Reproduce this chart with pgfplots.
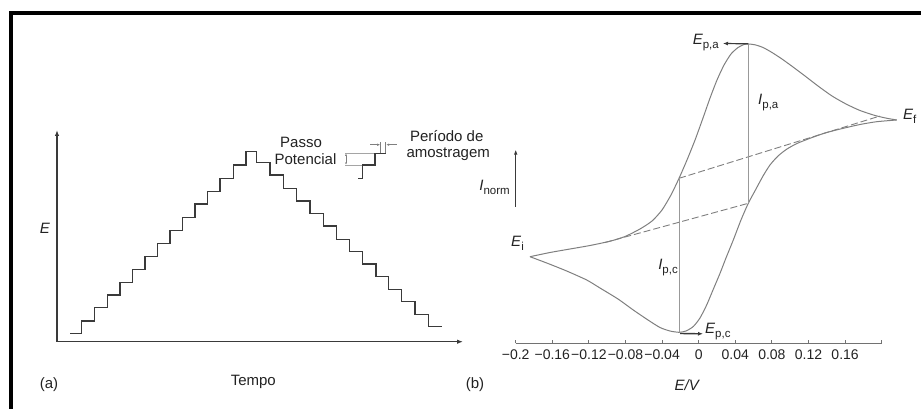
\documentclass[border=0pt]{standalone}
\usepackage{pgfplots}
\pgfplotsset{compat=1.18}
\usepackage{fontspec}
\setmainfont{Liberation Sans}
\usetikzlibrary{arrows.meta}
\definecolor{curve}{HTML}{7F7F7F}
\definecolor{txt}{HTML}{222222}
\definecolor{axdark}{HTML}{3A3A3A}
\newcommand\sub[1]{\raisebox{-0.27em}{\upshape\fontsize{11.5}{12}\selectfont #1}}
\begin{document}
\begin{tikzpicture}[x=1pt,y=1pt,font=\fontsize{15}{18}\selectfont,text=txt]
\path[use as bounding box] (0,0) rectangle (921,408);
% frame
\draw[line width=4pt,black] (11,-5) -- (11,395) -- (930,395);

% ---------------- panel (a) ----------------
\begin{axis}[
  at={(57pt,66.3pt)}, anchor=south west,
  x=1pt, y=1pt,
  xmin=57, xmax=463, ymin=66.3, ymax=278,
  axis lines=left,
  axis line style={draw=axdark, line width=1.3pt, -{Latex[length=6pt,width=4.5pt]}},
  xtick=\empty, ytick=\empty,
  clip=false,
]
\addplot[const plot, draw=axdark, line width=1.2pt] coordinates {
(70,74.7) (81.7,87) (94.3,100.3) (107.3,113) (120,125.3) (132.7,138.7)
(145,151.3) (157.7,164.7) (170,177.3) (182.3,190.7) (195,204) (207.3,216.3)
(220,229.7) (233.3,243) (246,256.3)
(256.7,245.7) (270,233) (283.3,219.7) (296.7,207) (310,194.7) (323.3,182)
(336.7,168.7) (349.3,156.3) (362.7,144) (376,131.3) (388.3,118.7) (401.7,106.3)
(415,93.7) (428.3,81.3) (441.7,81.3)
};
\end{axis}

% inset schematic (step height / sampling period)
\draw[curve!70, line width=0.6pt] (345,254.7) -- (375,254.7);
\draw[curve!70, line width=0.6pt] (345,243) -- (362.3,243);
\draw[axdark, line width=1.1pt] (358,229.7) -- (362.3,229.7) -- (362.3,243) -- (375,243) -- (375,254.7) -- (386,254.7);
\draw[curve, line width=0.5pt, {Latex[length=2pt,width=2pt]}-{Latex[length=2pt,width=2pt]}] (346,243.5) -- (346,254.2);
\draw[curve, line width=0.7pt] (380.7,254.7) -- (380.7,266.3);
\draw[curve, line width=0.7pt] (385.7,254.7) -- (385.7,266.3);
\draw[curve, line width=0.6pt, -{Latex[length=3pt,width=2.5pt]}] (370,263.3) -- (380.2,263.3);
\draw[curve, line width=0.6pt, -{Latex[length=3pt,width=2.5pt]}] (396.7,263.3) -- (386.2,263.3);

\node at (301,266) {Passo};
\node at (305.5,249) {Potencial};
\node[anchor=west] at (406.5,272) {Período de};
\node[anchor=west] at (403,254) {amostragem};
\node at (45,180) {\itshape E};
\node at (253.3,26) {Tempo};
\node at (49,23) {(a)};

% ---------------- panel (b) ----------------  (x data in mV)
\begin{axis}[
  at={(515.7pt,64.7pt)}, anchor=south west,
  x=0.915pt, y=1pt,
  xmin=-200, xmax=200, ymin=64.7, ymax=370,
  axis x line*=bottom, axis y line*=left,
  x axis line style={draw=curve!90!black, line width=1.1pt, -},
  y axis line style={draw=none},
  xtick={-200,-160,-120,-80,-40,0,40,80,120,160,200},
  xticklabels={−0.2,−0.16,−0.12,−0.08,−0.04,0,0.04,0.08,0.12,0.16,{}},
  tick align=inside, major tick length=3.5pt,
  tick style={draw=curve!90!black, line width=0.9pt},
  xticklabel style={font=\fontsize{14}{16}\selectfont, text=txt, yshift=-2.5pt},
  ytick=\empty,
  clip=false,
]
% forward scan (E_i -> E_f)
\addplot[draw=curve, line width=1.0pt, smooth, tension=0.4] coordinates {
(-184.4,151.3) (-162.5,155.5) (-140.7,159) (-118.8,162.5) (-96.9,166.8)
(-80.5,171.5) (-64.2,179) (-51.0,187) (-40.1,198) (-30.3,213)
(-21.5,229.7) (-12.8,248) (-4.0,268) (4.7,290) (12.4,310)
(20.0,328) (27.7,343) (35.3,354) (43.0,360.5) (49.5,363.5)
(54.2,364) (61.5,363.2) (70.3,360.5) (80.1,355.5) (91.0,349)
(103.1,341) (116.2,332) (130.4,322) (145.7,312) (161.0,304)
(176.3,297.5) (192.7,292.5) (205.8,289.7) (216.4,288)
};
% reverse scan (E_f -> E_i)
\addplot[draw=curve, line width=1.0pt, smooth, tension=0.4] coordinates {
(216.4,288) (194.5,286.3) (176.3,283.5) (158.0,279.7) (138.0,275)
(121.6,269.7) (107.4,264.5) (96.5,259) (86.7,252) (77.9,243)
(70.3,232) (62.6,219) (54.2,204.7) (46.2,188) (37.8,168)
(29.8,150) (23.3,134.7) (15.6,118) (8.7,103) (1.4,90)
(-5.9,81.5) (-13.9,77) (-21.5,75.7) (-31.4,77) (-42.3,80.5)
(-55.4,88) (-71.5,98) (-88.2,109) (-107.9,120) (-122.4,128)
(-144.3,137) (-164.7,144.5) (-184.4,151.3)
};
% baselines (dashed)
\addplot[draw=curve, line width=0.9pt, dash pattern=on 7pt off 3pt] coordinates {(-102.4,165.5) (54.2,204.7)};
\addplot[draw=curve, line width=0.9pt, dash pattern=on 7pt off 3pt] coordinates {(-21.5,229.7) (198.1,292)};
% peak current lines
\addplot[draw=curve!80, line width=1.0pt] coordinates {(54.2,364) (54.2,204.7)};
\addplot[draw=curve!80, line width=1.0pt] coordinates {(-21.5,229.7) (-21.5,75.7)};
\end{axis}

% annotations panel (b)
\draw[axdark, line width=1.2pt, -{Latex[length=5pt,width=4pt]}] (748.3,364.2) -- (723,364.5);
\draw[axdark, line width=1.4pt, -{Latex[length=5pt,width=4pt]}] (680,74.5) -- (703,74.2);
\draw[axdark, line width=1.1pt, -{Latex[length=5pt,width=3.5pt]}] (515.7,201.3) -- (515.7,258.5);

\node[anchor=east, inner sep=1pt] at (720,365) {\itshape E\sub{p,a}};
\node[anchor=west, inner sep=1pt] at (704,76) {\itshape E\sub{p,c}};
\node[anchor=west, inner sep=1pt] at (757,305) {\itshape I\sub{p,a}};
\node[anchor=east, inner sep=1pt] at (679,140) {\itshape I\sub{p,c}};
\node[anchor=east, inner sep=1pt] at (511,220.5) {\itshape I\sub{norm}};
\node[anchor=east, inner sep=1pt] at (525,165) {\itshape E\sub{i}};
\node[anchor=west, inner sep=1pt] at (902,292) {\itshape E\sub{f}};
\node at (686.7,23) {\itshape E/V};
\node at (475,23) {(b)};
\end{tikzpicture}
\end{document}
